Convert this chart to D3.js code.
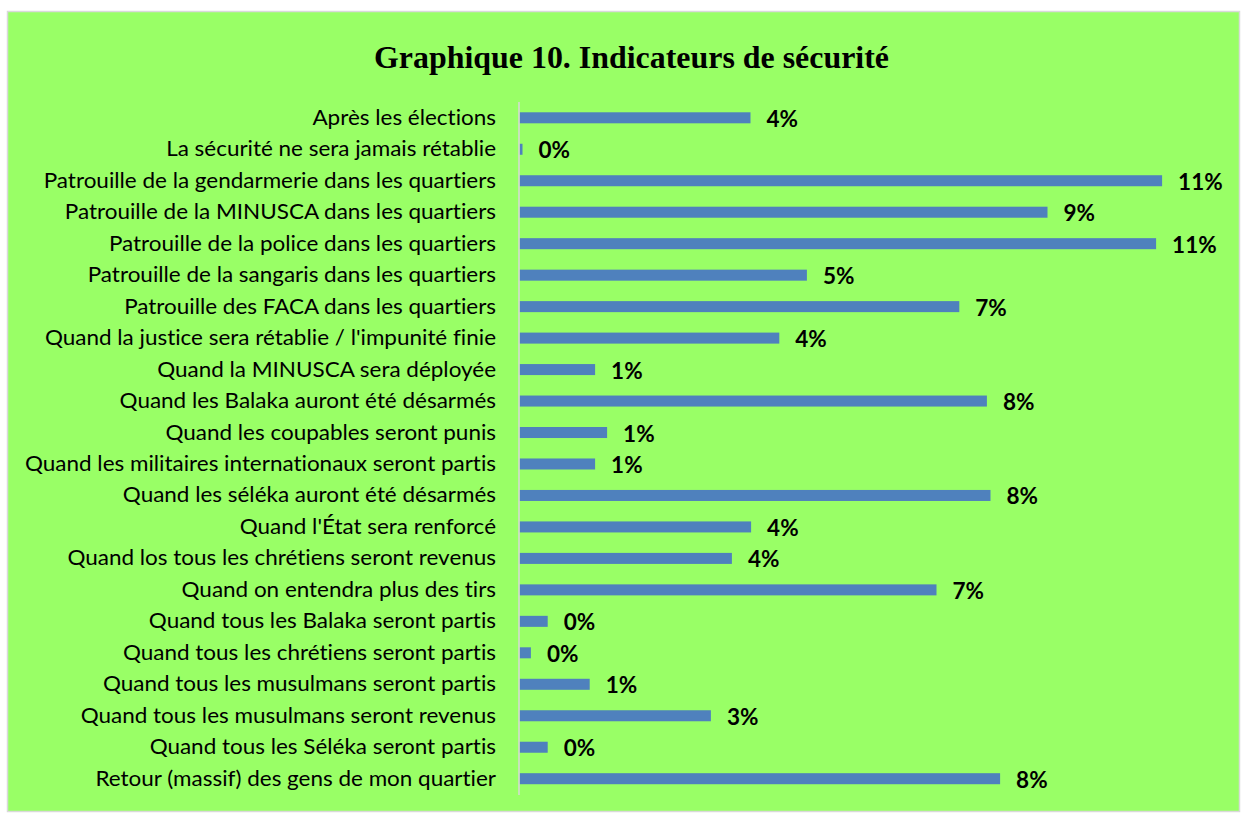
<!DOCTYPE html>
<html>
<head>
<meta charset="utf-8">
<script src="https://cdn.jsdelivr.net/npm/d3@7"></script>
<style>
  html, body { margin: 0; padding: 0; background: #ffffff; }
  svg { display: block; }
  text { font-variant-ligatures: none; font-feature-settings: "liga" 0, "clig" 0, "dlig" 0; }
</style>
</head>
<body>
<svg id="chart" width="1244" height="815"></svg>
<script>
const title = "Graphique 10. Indicateurs de sécurité";

const categories = [
  "Après les élections",
  "La sécurité ne sera jamais rétablie",
  "Patrouille de la gendarmerie dans les quartiers",
  "Patrouille de la MINUSCA dans les quartiers",
  "Patrouille de la police dans les quartiers",
  "Patrouille de la sangaris dans les quartiers",
  "Patrouille des FACA dans les quartiers",
  "Quand la justice sera rétablie / l'impunité finie",
  "Quand la MINUSCA sera déployée",
  "Quand les Balaka auront été désarmés",
  "Quand les coupables seront punis",
  "Quand les militaires internationaux seront partis",
  "Quand les séléka auront été désarmés",
  "Quand l'État sera renforcé",
  "Quand los tous les chrétiens seront revenus",
  "Quand on entendra plus des tirs",
  "Quand tous les Balaka seront partis",
  "Quand tous les chrétiens seront partis",
  "Quand tous les musulmans seront partis",
  "Quand tous les musulmans seront revenus",
  "Quand tous les Séléka seront partis",
  "Retour (massif) des gens de mon quartier"
];

const values = [
  0.0385, 0.0005, 0.1071, 0.0880, 0.1061, 0.0479, 0.0733, 0.0433,
  0.0126, 0.0779, 0.0146, 0.0126, 0.0785, 0.0386, 0.0354, 0.0695,
  0.0047, 0.0019, 0.0117, 0.0319, 0.0047, 0.0801
];

const data = categories.map((c, i) => ({ cat: c, val: values[i] }));

const svg = d3.select("#chart");

svg.append("rect")
  .attr("x", 7.5).attr("y", 11.5)
  .attr("width", 1232).attr("height", 800)
  .attr("fill", "#99FF66")
  .attr("stroke", "#d9d9d9")
  .attr("stroke-width", 1.5);

const titleText = svg.append("text")
  .attr("x", 631.5).attr("y", 68)
  .attr("text-anchor", "middle")
  .attr("font-family", "'Liberation Serif', 'Times New Roman', serif")
  .attr("font-weight", "bold")
  .attr("font-size", 30)
  .attr("fill", "#000")
  .text(title);
{
  const w = titleText.node().getComputedTextLength();
  titleText.attr("font-size", 30 * 515 / w);
}

const x = d3.scaleLinear().domain([0, 0.12]).range([519.5, 519.5 + 720]);
const y = d3.scaleBand().domain(categories)
  .range([102.06, 794.44])
  .paddingInner(0.65).paddingOuter(0.325);

svg.append("g").selectAll("rect")
  .data(data).join("rect")
  .attr("x", x(0))
  .attr("y", d => y(d.cat))
  .attr("width", d => x(d.val) - x(0))
  .attr("height", y.bandwidth())
  .attr("fill", "#4F81BD");

const yAxis = d3.axisLeft(y).tickSize(0).tickPadding(23);
const gAxis = svg.append("g")
  .attr("transform", `translate(${x(0) - 0.5},0)`)
  .call(yAxis);
gAxis.select(".domain")
  .attr("d", "M0,102V795")
  .attr("stroke", "#d9d9d9")
  .attr("stroke-width", 1.5);
gAxis.selectAll(".tick text")
  .attr("font-family", "Lato, 'Open Sans', sans-serif")
  .attr("font-size", 21)
  .attr("fill", "#000")
  .attr("dy", null)
  .attr("y", 7);

{
  let maxW = 0;
  gAxis.selectAll(".tick text").each(function() {
    maxW = Math.max(maxW, this.getComputedTextLength());
  });
  const ratio = 471 / maxW;
  gAxis.selectAll(".tick text").each(function() {
    const w = this.getComputedTextLength();
    d3.select(this).attr("textLength", w * ratio).attr("lengthAdjust", "spacingAndGlyphs");
  });
}

const fmt = d3.format(".0%");
svg.append("g").selectAll("text")
  .data(data).join("text")
  .attr("x", d => x(d.val) + 16)
  .attr("y", d => y(d.cat) + y.bandwidth() / 2 + 9)
  .attr("font-family", "Lato, 'Open Sans', sans-serif")
  .attr("font-weight", "bold")
  .attr("font-size", 22.5)
  .attr("fill", "#000")
  .text(d => fmt(d.val));
</script>
</body>
</html>
